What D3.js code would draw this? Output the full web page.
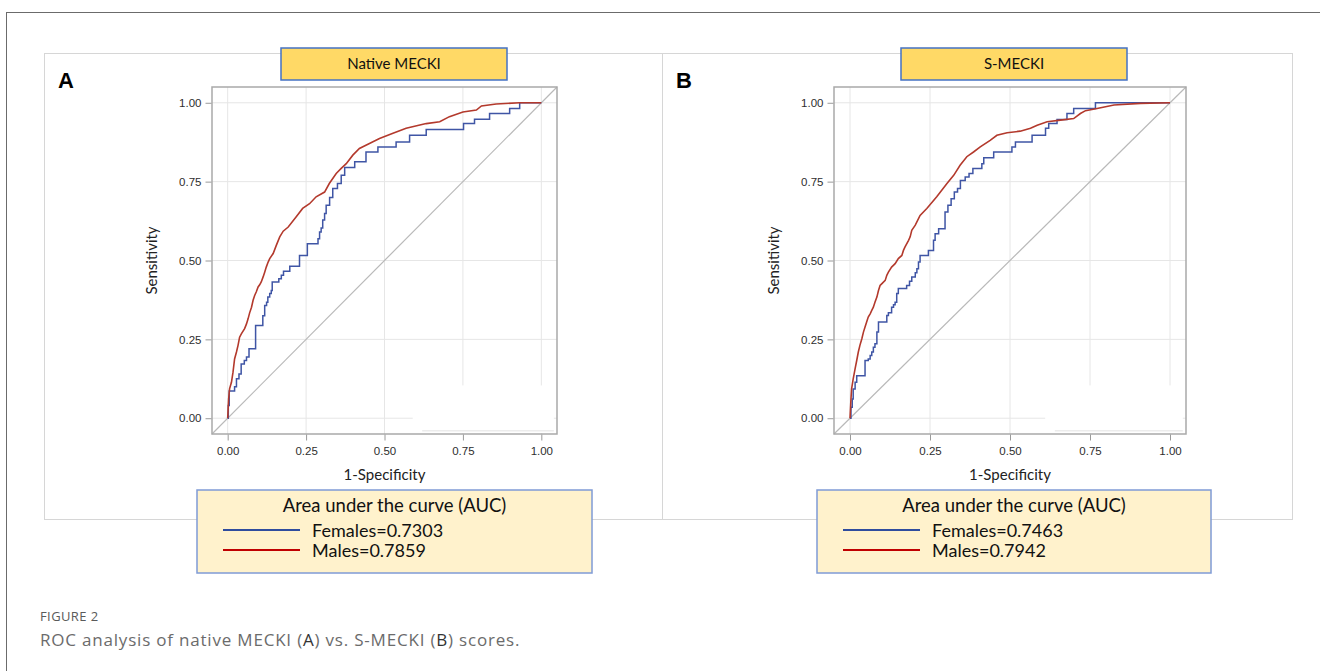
<!DOCTYPE html>
<html>
<head>
<meta charset="utf-8">
<script src="https://cdn.jsdelivr.net/npm/d3@7"></script>
<style>
  body { margin: 0; background: #fff; }
  svg { display: block; }
</style>
</head>
<body>
<div id="fig"></div>
<script>
// tick values used on both axes of both panels
var tickValues = [0, 0.25, 0.5, 0.75, 1];

var panelLetters = ["A", "B"];
var panelTitles = ["Native MECKI", "S-MECKI"];
var seriesNames = ["Females", "Males"];
var aucFemales = ["0.7303", "0.7463"];
var aucMales = ["0.7859", "0.7942"];

// ROC points: [1-specificity, sensitivity]
// females: each point is where the step jumps (fpr, new sensitivity)
var femalesA = [[0,0],[0.002,0.04],[0.005,0.086],[0.022,0.10],[0.028,0.125],[0.036,0.14],[0.043,0.172],
  [0.053,0.183],[0.060,0.194],[0.068,0.220],[0.089,0.294],[0.112,0.325],[0.118,0.357],[0.124,0.368],
  [0.128,0.384],[0.134,0.395],[0.139,0.405],[0.142,0.432],[0.163,0.442],[0.171,0.453],[0.178,0.466],
  [0.198,0.482],[0.229,0.516],[0.254,0.553],[0.288,0.569],[0.293,0.590],[0.298,0.603],[0.303,0.628],
  [0.309,0.649],[0.314,0.675],[0.325,0.700],[0.335,0.728],[0.350,0.744],[0.362,0.770],[0.373,0.795],
  [0.405,0.813],[0.441,0.844],[0.479,0.860],[0.537,0.876],[0.580,0.897],[0.633,0.915],[0.752,0.934],
  [0.787,0.948],[0.835,0.966],[0.899,0.982],[0.931,1.0],[1,1]];

var malesA = [[0,0],[0.003,0.061],[0.006,0.093],[0.012,0.114],[0.017,0.146],[0.022,0.188],[0.028,0.210],
  [0.033,0.231],[0.038,0.257],[0.044,0.268],[0.054,0.284],[0.060,0.299],[0.065,0.315],[0.070,0.334],
  [0.076,0.352],[0.081,0.374],[0.086,0.389],[0.091,0.400],[0.097,0.416],[0.102,0.423],[0.107,0.432],
  [0.113,0.448],[0.118,0.463],[0.123,0.479],[0.129,0.495],[0.134,0.506],[0.145,0.522],[0.155,0.548],
  [0.166,0.575],[0.177,0.593],[0.193,0.606],[0.218,0.638],[0.239,0.665],[0.261,0.680],[0.282,0.702],
  [0.309,0.717],[0.324,0.744],[0.346,0.776],[0.362,0.792],[0.378,0.807],[0.399,0.834],[0.420,0.855],
  [0.452,0.871],[0.484,0.887],[0.527,0.903],[0.569,0.919],[0.633,0.934],[0.676,0.940],[0.707,0.956],
  [0.750,0.971],[0.793,0.977],[0.809,0.990],[0.856,0.996],[0.931,1.0],[1,1]];

var femalesB = [[0,0],[0.003,0.035],[0.007,0.061],[0.010,0.093],[0.016,0.114],[0.021,0.135],[0.047,0.183],
  [0.057,0.188],[0.063,0.199],[0.068,0.210],[0.073,0.225],[0.078,0.236],[0.084,0.273],[0.089,0.305],
  [0.115,0.326],[0.120,0.334],[0.130,0.352],[0.136,0.360],[0.141,0.368],[0.146,0.395],[0.151,0.411],
  [0.177,0.421],[0.186,0.434],[0.193,0.448],[0.204,0.461],[0.209,0.474],[0.214,0.495],[0.219,0.516],
  [0.245,0.532],[0.261,0.564],[0.266,0.585],[0.277,0.601],[0.297,0.654],[0.306,0.675],[0.316,0.696],
  [0.326,0.717],[0.336,0.728],[0.345,0.754],[0.360,0.765],[0.372,0.776],[0.384,0.792],[0.412,0.807],
  [0.418,0.826],[0.449,0.844],[0.506,0.860],[0.517,0.876],[0.569,0.897],[0.611,0.919],[0.621,0.934],
  [0.647,0.947],[0.678,0.966],[0.699,0.982],[0.767,1.0],[1,1]];

var malesB = [[0,0],[0.003,0.061],[0.005,0.093],[0.010,0.125],[0.016,0.157],[0.021,0.183],[0.026,0.210],
  [0.031,0.231],[0.037,0.252],[0.042,0.273],[0.047,0.289],[0.052,0.305],[0.057,0.321],[0.063,0.331],
  [0.068,0.342],[0.073,0.352],[0.078,0.368],[0.084,0.384],[0.089,0.405],[0.094,0.421],[0.099,0.426],
  [0.110,0.437],[0.115,0.453],[0.120,0.463],[0.130,0.479],[0.141,0.490],[0.151,0.506],[0.162,0.516],
  [0.167,0.532],[0.172,0.543],[0.183,0.564],[0.188,0.575],[0.193,0.596],[0.204,0.612],[0.219,0.643],
  [0.240,0.665],[0.271,0.702],[0.303,0.744],[0.324,0.770],[0.344,0.802],[0.365,0.829],[0.386,0.844],
  [0.407,0.860],[0.438,0.881],[0.459,0.897],[0.491,0.905],[0.532,0.910],[0.564,0.919],[0.585,0.929],
  [0.616,0.940],[0.658,0.945],[0.699,0.950],[0.720,0.966],[0.736,0.975],[0.772,0.982],[0.825,0.993],
  [0.908,0.998],[1,1]];

var captionHead = "FIGURE 2";

var W = 1320, H = 671;
var calibri = "Lato, 'Open Sans', sans-serif";
var arial = "'Liberation Sans', Arial, sans-serif";
var blue = "#3f55a5", red = "#b3392c";

// layout of the two panels (pixel boxes)
var layout = [
  {box: [44, 53, 662, 519], plot: [212, 87, 557, 434], title: [281, 48, 507, 80], legend: [197, 490, 592, 573], patch: 0.59},
  {box: [662, 53, 1292, 519], plot: [834, 87, 1186, 434], title: [901, 48, 1127, 80], legend: [817, 490, 1211, 573], patch: 0.61}
];
var femalesData = [femalesA, femalesB];
var malesData = [malesA, malesB];

var svg = d3.select("#fig").append("svg")
    .attr("width", W)
    .attr("height", H)
    .style("background", "#fff");

// outer figure frame (top + left edge)
svg.append("line").attr("x1", 6).attr("x2", W).attr("y1", 12.5).attr("y2", 12.5)
  .attr("stroke", "#6b6b6b").attr("stroke-width", 1);
svg.append("line").attr("x1", 6.5).attr("x2", 6.5).attr("y1", 12).attr("y2", H)
  .attr("stroke", "#6b6b6b").attr("stroke-width", 1);

layout.forEach(function(L, i) {
  var g = svg.append("g");

  // panel box
  g.append("rect")
    .attr("x", L.box[0] + 0.5).attr("y", L.box[1] + 0.5)
    .attr("width", L.box[2] - L.box[0]).attr("height", L.box[3] - L.box[1])
    .attr("fill", "none").attr("stroke", "#d6d6d6");

  var x = d3.scaleLinear().domain([-0.05, 1.05]).range([L.plot[0], L.plot[2]]);
  var y = d3.scaleLinear().domain([-0.05, 1.05]).range([L.plot[3], L.plot[1]]);

  // grid
  g.append("g").selectAll("line.vg").data(tickValues).enter().append("line")
    .attr("x1", function(d) { return x(d); }).attr("x2", function(d) { return x(d); })
    .attr("y1", y(1.05)).attr("y2", y(-0.05))
    .attr("stroke", "#e6e6e6");
  g.append("g").selectAll("line.hg").data(tickValues).enter().append("line")
    .attr("y1", function(d) { return y(d); }).attr("y2", function(d) { return y(d); })
    .attr("x1", x(-0.05)).attr("x2", x(1.05))
    .attr("stroke", "#e6e6e6");

  // white patch over the lower right grid (pasted-over area in the original)
  g.append("rect")
    .attr("x", x(L.patch)).attr("y", y(0.104))
    .attr("width", x(1.04) - x(L.patch)).attr("height", y(-0.047) - y(0.104))
    .attr("fill", "#fff");
  g.append("line")
    .attr("x1", x(L.patch + 0.03)).attr("x2", x(1.04))
    .attr("y1", y(-0.04)).attr("y2", y(-0.04))
    .attr("stroke", "#e3e3e3");

  // chance diagonal
  g.append("line")
    .attr("x1", x(-0.05)).attr("y1", y(-0.05))
    .attr("x2", x(1.05)).attr("y2", y(1.05))
    .attr("stroke", "#b9b9b9").attr("stroke-width", 1.2);

  // curves
  var stepLine = d3.line()
    .x(function(d) { return x(d[0]); })
    .y(function(d) { return y(d[1]); })
    .curve(d3.curveStepAfter);
  var smoothLine = d3.line()
    .x(function(d) { return x(d[0]); })
    .y(function(d) { return y(d[1]); });

  g.append("path").datum(femalesData[i])
    .attr("d", stepLine)
    .attr("fill", "none").attr("stroke", blue).attr("stroke-width", 1.5);
  g.append("path").datum(malesData[i])
    .attr("d", smoothLine)
    .attr("fill", "none").attr("stroke", red).attr("stroke-width", 1.6);

  // frame
  g.append("rect")
    .attr("x", L.plot[0]).attr("y", L.plot[1])
    .attr("width", L.plot[2] - L.plot[0]).attr("height", L.plot[3] - L.plot[1])
    .attr("fill", "none").attr("stroke", "#a9a9a9").attr("stroke-width", 1.5);

  // axes
  var fmt = d3.format(".2f");
  var xAxis = g.append("g")
    .attr("transform", "translate(0," + (L.plot[3] + 0.5) + ")")
    .call(d3.axisBottom(x).tickValues(tickValues).tickFormat(fmt).tickSize(6).tickPadding(6));
  var yAxis = g.append("g")
    .attr("transform", "translate(" + (L.plot[0] - 0.5) + ",0)")
    .call(d3.axisLeft(y).tickValues(tickValues).tickFormat(fmt).tickSize(6).tickPadding(4));
  [xAxis, yAxis].forEach(function(a) {
    a.select(".domain").remove();
    a.selectAll(".tick line").attr("stroke", "#9a9a9a");
    a.selectAll("text").attr("fill", "#2e2e2e").style("font-family", arial).style("font-size", "11.5px");
  });

  // axis titles
  g.append("text")
    .attr("x", x(0.5)).attr("y", 480)
    .attr("text-anchor", "middle")
    .style("font-family", calibri).style("font-size", "15px").attr("fill", "#222")
    .text("1-Specificity");
  g.append("text")
    .attr("transform", "translate(" + (L.plot[0] - 55) + "," + y(0.5) + ") rotate(-90)")
    .attr("text-anchor", "middle")
    .style("font-family", calibri).style("font-size", "15px").attr("fill", "#222")
    .text("Sensitivity");

  // title box
  g.append("rect")
    .attr("x", L.title[0]).attr("y", L.title[1])
    .attr("width", L.title[2] - L.title[0]).attr("height", L.title[3] - L.title[1])
    .attr("fill", "#ffd966").attr("stroke", "#4472c4").attr("stroke-width", 1.5);
  g.append("text")
    .attr("x", (L.title[0] + L.title[2]) / 2).attr("y", (L.title[1] + L.title[3]) / 2 + 5)
    .attr("text-anchor", "middle")
    .style("font-family", calibri).style("font-size", "15px").attr("fill", "#111")
    .text(panelTitles[i]);

  // panel letter
  g.append("text")
    .attr("x", L.box[0] + 14).attr("y", 88)
    .style("font-family", arial).style("font-weight", "bold").style("font-size", "22px")
    .attr("fill", "#000")
    .text(panelLetters[i]);

  // legend
  var lg = g.append("g");
  lg.append("rect")
    .attr("x", L.legend[0]).attr("y", L.legend[1])
    .attr("width", L.legend[2] - L.legend[0]).attr("height", L.legend[3] - L.legend[1])
    .attr("fill", "#fff2cc").attr("stroke", "#7f9bd6").attr("stroke-width", 1.5);
  lg.append("text")
    .attr("x", (L.legend[0] + L.legend[2]) / 2).attr("y", L.legend[1] + 22)
    .attr("text-anchor", "middle")
    .style("font-family", calibri).style("font-size", "18.5px").attr("fill", "#111")
    .text("Area under the curve (AUC)");
  var items = [
    {name: seriesNames[0], value: aucFemales[i], color: "#2f4d9e"},
    {name: seriesNames[1], value: aucMales[i], color: "#c00000"}
  ];
  items.forEach(function(it, k) {
    var yy = L.legend[1] + 40 + k * 20;
    lg.append("line")
      .attr("x1", L.legend[0] + 26).attr("x2", L.legend[0] + 103)
      .attr("y1", yy).attr("y2", yy)
      .attr("stroke", it.color).attr("stroke-width", 2);
    lg.append("text")
      .attr("x", L.legend[0] + 115).attr("y", yy + 7)
      .style("font-family", calibri).style("font-size", "18px").attr("fill", "#111")
      .text(it.name + "=" + it.value);
  });
});

// caption
svg.append("text")
  .attr("x", 40).attr("y", 621)
  .style("font-family", "'Open Sans', sans-serif").style("font-size", "13px")
  .style("letter-spacing", "0.4px").attr("fill", "#5a5a5a")
  .text(captionHead);
var cap = svg.append("text")
  .attr("x", 40).attr("y", 646)
  .style("font-family", "'Open Sans', sans-serif").style("font-size", "17px")
  .style("letter-spacing", "0.8px")
  .attr("fill", "#6b6b6b");
cap.append("tspan").text("ROC analysis of native MECKI (");
cap.append("tspan").attr("fill", "#333").text(panelLetters[0]);
cap.append("tspan").text(") vs. S-MECKI (");
cap.append("tspan").attr("fill", "#333").text(panelLetters[1]);
cap.append("tspan").text(") scores.");
</script>
</body>
</html>
